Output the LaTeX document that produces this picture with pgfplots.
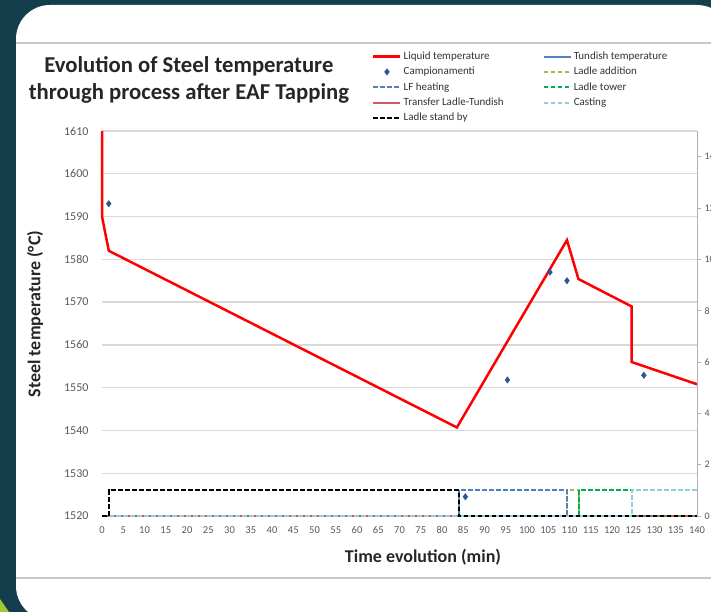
\documentclass[border=0pt]{standalone}
\usepackage{fontspec}
\setmainfont{Carlito}
\usepackage{pgfplots}
\pgfplotsset{compat=1.18}
\definecolor{bgdark}{RGB}{20,62,75}
\definecolor{gridgray}{RGB}{217,217,217}
\definecolor{ticktext}{RGB}{89,89,89}
\definecolor{lfblue}{RGB}{79,129,189}
\definecolor{tundblue}{RGB}{79,129,189}
\definecolor{addgreen}{RGB}{155,187,89}
\definecolor{towergreen}{RGB}{0,176,80}
\definecolor{transred}{RGB}{205,92,92}
\definecolor{castblue}{RGB}{146,205,221}
\definecolor{markblue}{RGB}{46,84,150}
\definecolor{sepgray}{RGB}{200,200,200}
\definecolor{swoosh}{RGB}{160,200,50}
\pgfplotsset{
 lgline/.style={legend image code/.code={\draw[##1] (0pt,0pt) -- (27pt,0pt);}},
 lgmark/.style={legend image code/.code={\draw[mark repeat=2,mark phase=2,##1] plot coordinates {(0pt,0pt) (13.5pt,0pt) (27pt,0pt)};}},
 stepdash/.style={line width=2pt, dash pattern=on 4.5pt off 2.5pt},
}
\begin{document}
\begin{tikzpicture}
\useasboundingbox (0,0) rectangle (711pt,612pt);
\clip (0,0) rectangle (711pt,612pt);
\fill[bgdark] (0,0) rectangle (711pt,612pt);
\fill[swoosh] (0,0) -- (9pt,0) -- (0,13pt) -- cycle;
\fill[white, rounded corners=34pt] (16pt,-8pt) rectangle (731pt,607pt);
\draw[sepgray, line width=1.5pt] (16pt,569pt) -- (711pt,569pt);
\draw[sepgray, line width=1.5pt] (16pt,34pt) -- (711pt,34pt);
\begin{axis}[
 at={(102pt,96pt)}, anchor=south west,
 scale only axis, width=595pt, height=385pt,
 xmin=0, xmax=140, ymin=1520, ymax=1610,
 xtick={0,5,...,140}, ytick={1520,1530,...,1610},
 axis x line*=bottom, axis y line*=left,
 axis line style={draw=none},
 major tick length=0pt,
 ymajorgrids, major grid style={draw=gridgray, line width=1.4pt},
 /pgf/number format/assume math mode=true,
 /pgf/number format/1000 sep={},
 yticklabel style={font=\fontsize{12}{12}\selectfont, text=ticktext, xshift=-10pt},
 xticklabel style={font=\fontsize{10.5}{10.5}\selectfont, text=ticktext, yshift=-7pt},
 xlabel={Time evolution (min)},
 ylabel={Steel temperature (°C)},
 xlabel style={at={(axis description cs:0.5395,-0.1065)}, anchor=center, font=\bfseries\fontsize{18}{18}\selectfont, text=black!85},
 ylabel style={at={(axis description cs:-0.1126,0.5247)}, anchor=center, font=\bfseries\fontsize{18}{18}\selectfont, text=black!85},
 title={Evolution of Steel temperature\\through process after EAF Tapping},
 title style={at={(axis description cs:0.146,1.118)}, anchor=center, yshift=0pt, align=center, font=\bfseries\fontsize{22.7}{27}\selectfont, text=black!85},
 legend columns=2,
 legend cell align=left,
 legend style={at={(axis description cs:0.4538,1.211)}, anchor=north west, draw=none, fill=none, inner sep=0pt, font=\fontsize{11}{12}\selectfont, text=black!80, row sep=2.2pt, /tikz/every even column/.append style={column sep=37pt}},
 clip=false,
]
\addlegendimage{lgline, red, line width=2.5pt}
\addlegendentry{Liquid temperature}
\addlegendimage{lgline, tundblue, line width=2pt}
\addlegendentry{Tundish temperature}
\addlegendimage{lgmark, only marks, mark=diamond*, mark size=3.2pt, markblue}
\addlegendentry{Campionamenti}
\addlegendimage{lgline, addgreen, stepdash}
\addlegendentry{Ladle addition}
\addlegendimage{lgline, lfblue, stepdash}
\addlegendentry{LF heating}
\addlegendimage{lgline, towergreen, stepdash}
\addlegendentry{Ladle tower}
\addlegendimage{lgline, transred, line width=2pt}
\addlegendentry{Transfer Ladle-Tundish}
\addlegendimage{lgline, castblue, stepdash}
\addlegendentry{Casting}
\addlegendimage{lgline, black, stepdash}
\addlegendentry{Ladle stand by}
\addplot[red, line width=2.5pt, forget plot] coordinates {
(0,1610) (0,1590) (1.6,1582) (83.5,1540.7) (109.4,1584.5) (112.1,1575.4) (124.6,1569) (124.6,1556) (140,1550.8)};
\addplot[only marks, mark=diamond*, mark size=3.2pt, markblue, forget plot] coordinates {
(1.6,1593) (85.5,1524.5) (95.4,1551.8) (105.4,1577) (109.4,1575) (127.5,1552.9)};
\end{axis}
\begin{axis}[
 at={(102pt,96pt)}, anchor=south west,
 scale only axis, width=595pt, height=385pt,
 xmin=0, xmax=140, ymin=0, ymax=15,
 axis x line=none, axis y line*=right,
 ytick={0,2,...,14},
 axis line style={draw=gray!60, line width=1pt},
 tick style={draw=gray!60, line width=0.8pt},
 tick align=outside, major tick length=4pt,
 /pgf/number format/assume math mode=true,
 yticklabel style={font=\fontsize{10}{10}\selectfont, text=ticktext},
 clip=false,
]
\addplot[transred, line width=1.5pt] coordinates {(0,0) (140,0)};
\addplot[addgreen, stepdash] coordinates {(109.5,0) (109.5,1) (112.2,1) (112.2,0)};
\addplot[lfblue, stepdash] coordinates {(0,0) (84,0) (84,1) (109.5,1) (109.5,0) (140,0)};
\addplot[towergreen, stepdash] coordinates {(112.2,0) (112.2,1) (124.6,1) (124.6,0) (140,0)};
\addplot[castblue, stepdash] coordinates {(0,0) (124.6,0) (124.6,1) (140,1)};
\addplot[black, stepdash, line width=2.3pt] coordinates {(0,0) (1.6,0) (1.6,1) (84,1) (84,0) (140,0)};
\end{axis}
\end{tikzpicture}
\end{document}
